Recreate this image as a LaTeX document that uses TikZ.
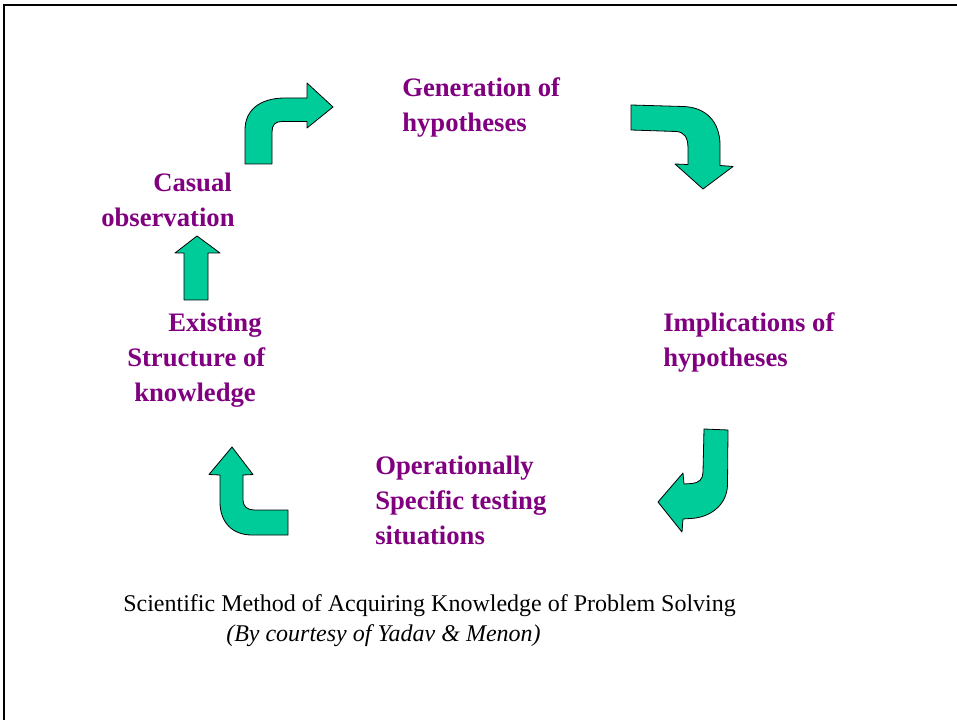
\documentclass[tikz,border=0pt]{standalone}
\usepackage{fontspec}
\setmainfont{Liberation Serif}
\definecolor{arrowgreen}{RGB}{0,204,153}
\definecolor{labelpurple}{RGB}{128,0,128}
\begin{document}
\begin{tikzpicture}[x=0.75pt,y=-0.75pt,
  blockarrow/.style={fill=arrowgreen,draw=black,line width=0.6pt,line join=round},
  lbl/.style={text=labelpurple,font=\bfseries\fontsize{20}{24}\selectfont,anchor=base west,inner sep=0pt},
  captext/.style={font=\fontsize{18}{22}\selectfont,anchor=base west,inner sep=0pt}]
\useasboundingbox (0,0) rectangle (957,720);
\fill[white] (0,0) rectangle (957,720);
% slide frame
\draw[line width=1.5pt] (4,721) -- (4,5) -- (958,5);

% curved arrow: up, then right
\draw[blockarrow] (245,164) -- (245,130) .. controls (245,110) and (260,98) .. (285,98)
  -- (307,98) -- (307,83) -- (333,107) -- (307,128) -- (307,121.5) -- (282,121.5)
  .. controls (275,121.5) and (272,125) .. (272,132) -- (272,164) -- cycle;
% curved arrow: right, then down
\draw[blockarrow] (631,105) -- (683,106.5) .. controls (706,107) and (720,122) .. (720,145)
  -- (720,165.5) -- (733,166.5) -- (703,189) -- (675,164) -- (688,164.5) -- (688,148)
  .. controls (688,137) and (684,132) .. (676,131.5) -- (631,130) -- cycle;
% curved arrow: down, then left
\draw[blockarrow] (704,429) -- (728,430) -- (727.5,485) .. controls (727,505) and (710,518) .. (690,518.5)
  -- (683,519) -- (682,532) -- (658,502) -- (683,473) -- (684,484) -- (692,483.5)
  .. controls (699,483) and (703,479) .. (703,472) -- cycle;
% curved arrow: left, then up
\draw[blockarrow] (288,510) -- (288,535) -- (252,535) .. controls (232,535) and (220,522) .. (220,502)
  -- (220,475) -- (209,474.5) -- (232,447) -- (253,474.5) -- (243,475) -- (243,500)
  .. controls (243,506) and (247,510) .. (254,510) -- cycle;
% straight arrow: up
\draw[blockarrow] (184,300) -- (184,253) -- (175,253) -- (197,236) -- (220,253) -- (208,253) -- (208,300) -- cycle;

% stage labels
\node[lbl] (gen1) at (402,97) {Generation of};
\node[lbl] (gen2) at (402,132) {hypotheses};
\node[lbl] (imp1) at (663,332) {Implications of};
\node[lbl] (imp2) at (663,367) {hypotheses};
\node[lbl] (op1) at (375,474) {Operationally};
\node[lbl] (op2) at (375,509) {Specific testing};
\node[lbl] (op3) at (375,544) {situations};
\node[lbl] (ex1) at (168,332) {Existing};
\node[lbl] (ex2) at (127,367) {Structure of};
\node[lbl] (ex3) at (134,402) {knowledge};
\node[lbl] (cas1) at (153,192) {Casual};
\node[lbl] (cas2) at (101,227) {observation};

% caption
\node[captext] (title) at (123,611) {Scientific Method of Acquiring Knowledge of Problem Solving};
\node[captext,font=\itshape\fontsize{18}{22}\selectfont] (credit) at (226,641) {(By courtesy of Yadav \& Menon)};
\end{tikzpicture}
\end{document}
